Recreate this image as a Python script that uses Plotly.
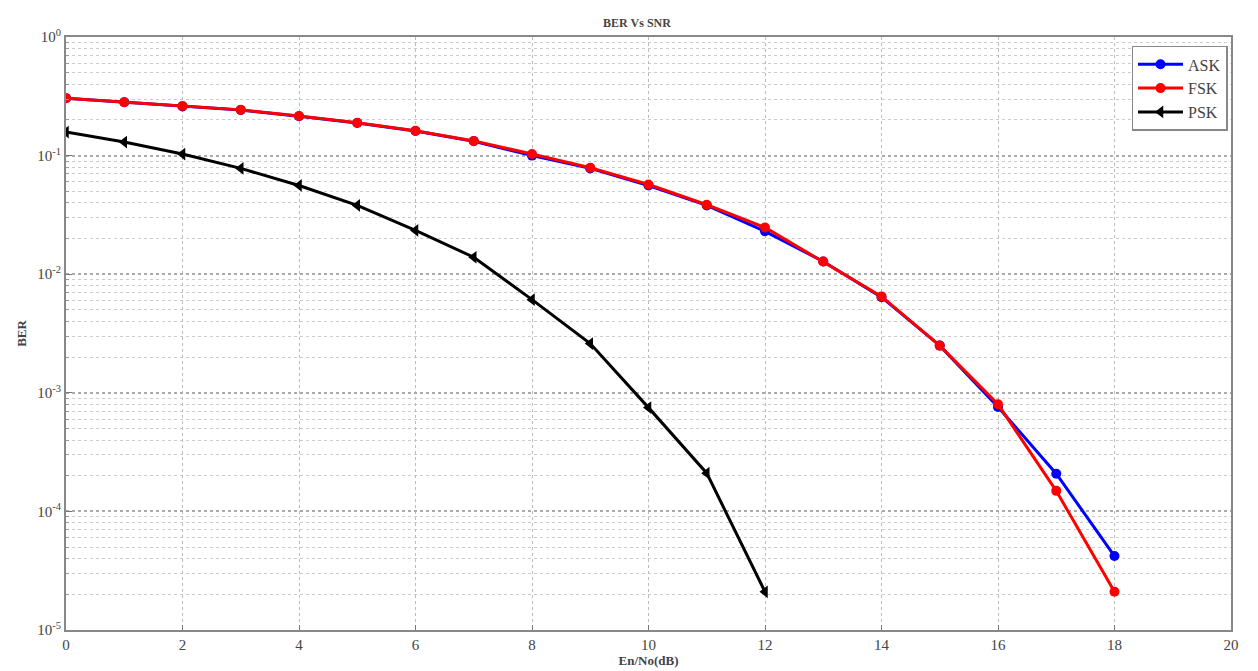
import plotly.graph_objects as go

snr_db = list(range(0, 19))
ask_ber = [0.305, 0.282, 0.260, 0.242, 0.215, 0.188, 0.161, 0.132, 0.100, 0.078,
           0.056, 0.038, 0.023, 0.0128, 0.0064, 0.0025, 7.6e-4, 2.08e-4, 4.2e-5]
fsk_ber = [0.305, 0.282, 0.262, 0.243, 0.216, 0.189, 0.162, 0.133, 0.103, 0.079,
           0.057, 0.0385, 0.0248, 0.0128, 0.0065, 0.0025, 8.0e-4, 1.49e-4, 2.1e-5]
psk_snr = list(range(0, 13))
psk_ber = [0.158, 0.130, 0.103, 0.078, 0.056, 0.038, 0.0234, 0.0139, 0.0061,
           0.0026, 7.5e-4, 2.1e-4, 2.1e-5]

x_ticks = list(range(0, 21, 2))
y_exps = [-5, -4, -3, -2, -1, 0]
y_tickvals = [10.0 ** e for e in y_exps]
y_ticktext = ["10<sup>%d</sup>" % e for e in y_exps]
minor_vals = [k * 10.0 ** e for e in range(-5, 0) for k in range(2, 10)]

font_family = "Liberation Serif"

fig = go.Figure()
fig.add_trace(go.Scatter(x=snr_db, y=ask_ber, mode="lines+markers", name="ASK",
                         line=dict(color="#0000ff", width=3),
                         marker=dict(symbol="circle", size=10, color="#0000ff")))
fig.add_trace(go.Scatter(x=snr_db, y=fsk_ber, mode="lines+markers", name="FSK",
                         line=dict(color="#ff0000", width=3),
                         marker=dict(symbol="circle", size=10, color="#ff0000")))
fig.add_trace(go.Scatter(x=psk_snr, y=psk_ber, mode="lines+markers", name="PSK",
                         line=dict(color="#000000", width=3),
                         marker=dict(symbol="triangle-left", size=11, color="#000000")))

fig.update_layout(
    width=1258, height=671,
    margin=dict(l=58, r=35, t=29, b=49),
    paper_bgcolor="white", plot_bgcolor="white",
    font=dict(family=font_family, size=13, color="#333333"),
    title=dict(text="<b>BER Vs SNR</b>", x=0.5, xanchor="center", y=0.978, yanchor="middle",
               font=dict(family=font_family, size=12, color="#444444")),
    legend=dict(x=0.997, y=0.985, xanchor="right", yanchor="top",
                bgcolor="white", bordercolor="#888888", borderwidth=1.5,
                font=dict(family=font_family, size=16, color="#444444"),
                itemwidth=45, tracegroupgap=4),
    showlegend=True,
)

fig.update_xaxes(
    range=[0, 20], tickvals=x_ticks, ticks="inside", ticklen=5, tickcolor="#777777",
    showline=True, linecolor="#888888", linewidth=2, mirror=True,
    showgrid=True, gridcolor="#bbbbbb", griddash="dot", gridwidth=1,
    zeroline=False, automargin=False,
    title=dict(text="<b>En/No(dB)</b>", standoff=4, font=dict(family=font_family, size=13, color="#444444")),
    tickfont=dict(family=font_family, size=15, color="#444444"),
)
fig.update_yaxes(
    type="log", range=[-5, 0], tickvals=y_tickvals, ticktext=y_ticktext,
    ticks="inside", ticklen=6, tickcolor="#777777",
    showline=True, linecolor="#888888", linewidth=2, mirror=True,
    showgrid=True, gridcolor="#aaaaaa", griddash="dot", gridwidth=1.5,
    minor=dict(tickvals=minor_vals, showgrid=True, gridcolor="#cccccc", griddash="dot",
               gridwidth=1, ticks="inside", ticklen=3, tickcolor="#999999"),
    zeroline=False, automargin=False,
    title=dict(text="<b>BER</b>", standoff=8, font=dict(family=font_family, size=13, color="#444444")),
    tickfont=dict(family=font_family, size=15, color="#444444"),
)

fig.write_html("out.html")
